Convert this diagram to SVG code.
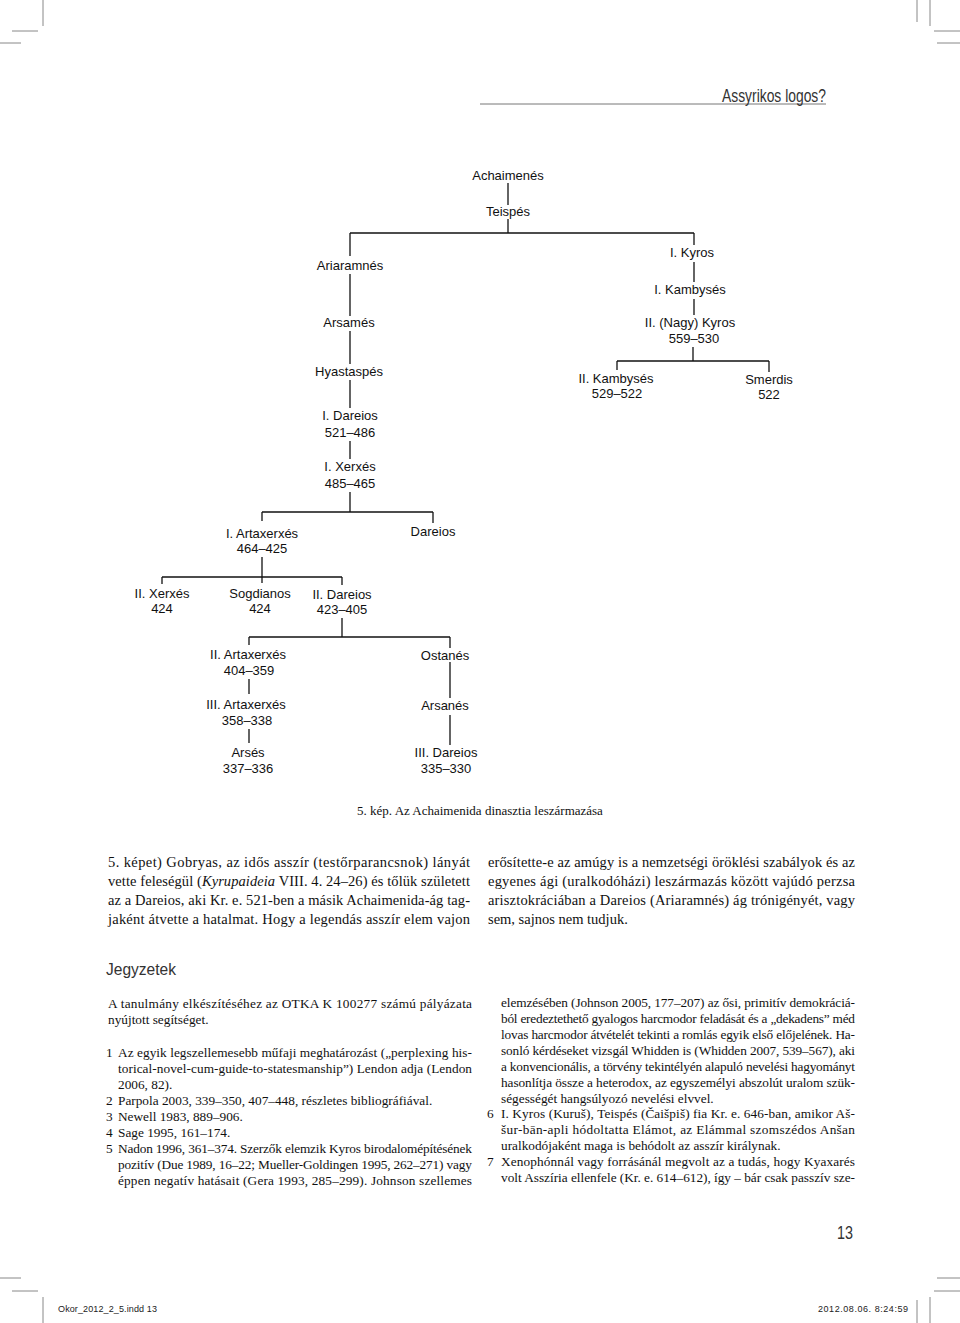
<svg xmlns="http://www.w3.org/2000/svg" width="960" height="1323" viewBox="0 0 960 1323">
<style>
.bg{fill:#fff}
.n{font-family:"Liberation Sans",Arial,sans-serif;font-size:13px;fill:#111;text-anchor:middle}
.c line{stroke:#111;stroke-width:1.3}
.crop line{stroke:#888;stroke-width:1}
.b{font-family:"Liberation Serif","Times New Roman",serif;font-size:14.5px;fill:#111}
.s{font-family:"Liberation Serif","Times New Roman",serif;font-size:13.3px;fill:#111}
.cap{font-family:"Liberation Serif","Times New Roman",serif;font-size:13px;fill:#111;text-anchor:middle}
.hd{font-family:"Liberation Sans",Arial,sans-serif;fill:#333}
.ft{font-family:"Liberation Sans",Arial,sans-serif;font-size:9px;fill:#222}
</style>
<rect class="bg" x="0" y="0" width="960" height="1323"/>

<g id="page-marks" class="crop">
<line x1="43" y1="0" x2="43" y2="26"/>
<line x1="12" y1="31" x2="38" y2="31" stroke-width="1.5"/>
<line x1="0" y1="43" x2="21" y2="43"/>
<line x1="917" y1="0" x2="917" y2="22"/>
<line x1="930" y1="0" x2="930" y2="26"/>
<line x1="934" y1="31" x2="960" y2="31" stroke-width="1.5"/>
<line x1="937" y1="43" x2="960" y2="43"/>
<line x1="0" y1="1278" x2="21" y2="1278"/>
<line x1="12" y1="1291" x2="38" y2="1291" stroke-width="1.5"/>
<line x1="43" y1="1297" x2="43" y2="1323"/>
<line x1="937" y1="1278" x2="960" y2="1278"/>
<line x1="934" y1="1291" x2="960" y2="1291" stroke-width="1.5"/>
<line x1="917" y1="1300" x2="917" y2="1323"/>
<line x1="930" y1="1297" x2="930" y2="1323"/>
</g>

<g id="header">
<line x1="480" y1="104" x2="826" y2="104" stroke="#777" stroke-width="1"/>
<text class="hd" x="826" y="102" font-size="18" text-anchor="end" textLength="104" lengthAdjust="spacingAndGlyphs">Assyrikos logos?</text>
</g>

<g id="connectors" class="c">
<line x1="508" y1="183" x2="508" y2="205"/>
<line x1="508" y1="219" x2="508" y2="233"/>
<line x1="350" y1="233" x2="694" y2="233"/>
<line x1="350" y1="233" x2="350" y2="256"/>
<line x1="694" y1="233" x2="694" y2="245"/>
<line x1="350" y1="274" x2="350" y2="316"/>
<line x1="350" y1="331" x2="350" y2="364"/>
<line x1="350" y1="380" x2="350" y2="408"/>
<line x1="350" y1="441" x2="350" y2="459"/>
<line x1="350" y1="492" x2="350" y2="512"/>
<line x1="262" y1="512" x2="433" y2="512"/>
<line x1="262" y1="512" x2="262" y2="521"/>
<line x1="433" y1="512" x2="433" y2="523"/>
<line x1="694" y1="262" x2="694" y2="282"/>
<line x1="694" y1="299" x2="694" y2="315"/>
<line x1="693" y1="347" x2="693" y2="361"/>
<line x1="617" y1="361" x2="769" y2="361"/>
<line x1="617" y1="361" x2="617" y2="370"/>
<line x1="769" y1="361" x2="769" y2="372"/>
<line x1="262" y1="557" x2="262" y2="583"/>
<line x1="162" y1="577" x2="342" y2="577"/>
<line x1="162" y1="577" x2="162" y2="584"/>
<line x1="342" y1="577" x2="342" y2="585"/>
<line x1="342" y1="618" x2="342" y2="637"/>
<line x1="249" y1="637" x2="450" y2="637"/>
<line x1="249" y1="637" x2="249" y2="645"/>
<line x1="450" y1="637" x2="450" y2="648"/>
<line x1="249" y1="679" x2="249" y2="694"/>
<line x1="249" y1="729" x2="249" y2="743"/>
<line x1="450" y1="662" x2="450" y2="698"/>
<line x1="450" y1="715" x2="450" y2="745"/>
</g>

<g id="n-achaimenes"><text class="n" x="508" y="180">Achaimenés</text></g>
<g id="n-teispes"><text class="n" x="508" y="216">Teispés</text></g>
<g id="n-ariaramnes"><text class="n" x="350" y="270">Ariaramnés</text></g>
<g id="n-arsames"><text class="n" x="349" y="327">Arsamés</text></g>
<g id="n-hyastaspes"><text class="n" x="349" y="376">Hyastaspés</text></g>
<g id="n-dareios1"><text class="n" x="350" y="420">I. Dareios</text><text class="n" x="350" y="437">521–486</text></g>
<g id="n-xerxes1"><text class="n" x="350" y="471">I. Xerxés</text><text class="n" x="350" y="488">485–465</text></g>
<g id="n-kyros1"><text class="n" x="692" y="257">I. Kyros</text></g>
<g id="n-kambyses1"><text class="n" x="690" y="294">I. Kambysés</text></g>
<g id="n-kyros2"><text class="n" x="690" y="327">II. (Nagy) Kyros</text><text class="n" x="694" y="343">559–530</text></g>
<g id="n-kambyses2"><text class="n" x="616" y="383">II. Kambysés</text><text class="n" x="617" y="398">529–522</text></g>
<g id="n-smerdis"><text class="n" x="769" y="384">Smerdis</text><text class="n" x="769" y="399">522</text></g>
<g id="n-artaxerxes1"><text class="n" x="262" y="538">I. Artaxerxés</text><text class="n" x="262" y="553">464–425</text></g>
<g id="n-dareios"><text class="n" x="433" y="536">Dareios</text></g>
<g id="n-xerxes2"><text class="n" x="162" y="598">II. Xerxés</text><text class="n" x="162" y="613">424</text></g>
<g id="n-sogdianos"><text class="n" x="260" y="598">Sogdianos</text><text class="n" x="260" y="613">424</text></g>
<g id="n-dareios2"><text class="n" x="342" y="599">II. Dareios</text><text class="n" x="342" y="614">423–405</text></g>
<g id="n-artaxerxes2"><text class="n" x="248" y="659">II. Artaxerxés</text><text class="n" x="249" y="675">404–359</text></g>
<g id="n-artaxerxes3"><text class="n" x="246" y="709">III. Artaxerxés</text><text class="n" x="247" y="725">358–338</text></g>
<g id="n-arses"><text class="n" x="248" y="757">Arsés</text><text class="n" x="248" y="773">337–336</text></g>
<g id="n-ostanes"><text class="n" x="445" y="660">Ostanés</text></g>
<g id="n-arsanes"><text class="n" x="445" y="710">Arsanés</text></g>
<g id="n-dareios3"><text class="n" x="446" y="757">III. Dareios</text><text class="n" x="446" y="773">335–330</text></g>

<g id="caption"><text class="cap" x="480" y="815">5. kép. Az Achaimenida dinasztia leszármazása</text></g>

<g id="body-left">
<text class="b" x="108" y="867" textLength="362" lengthAdjust="spacing">5. képet) Gobryas, az idős asszír (testőrparancsnok) lányát</text>
<text class="b" x="108" y="886" textLength="362" lengthAdjust="spacing">vette feleségül (<tspan font-style="italic">Kyrupaideia</tspan> VIII. 4. 24–26) és tőlük született</text>
<text class="b" x="108" y="905" textLength="362" lengthAdjust="spacing">az a Dareios, aki Kr. e. 521-ben a másik Achaimenida-ág tag-</text>
<text class="b" x="108" y="924" textLength="362" lengthAdjust="spacing">jaként átvette a hatalmat. Hogy a legendás asszír elem vajon</text>
</g>
<g id="body-right">
<text class="b" x="488" y="867" textLength="367" lengthAdjust="spacing">erősítette-e az amúgy is a nemzetségi öröklési szabályok és az</text>
<text class="b" x="488" y="886" textLength="367" lengthAdjust="spacing">egyenes ági (uralkodóházi) leszármazás között vajúdó perzsa</text>
<text class="b" x="488" y="905" textLength="367" lengthAdjust="spacing">arisztokráciában a Dareios (Ariaramnés) ág trónigényét, vagy</text>
<text class="b" x="488" y="924">sem, sajnos nem tudjuk.</text>
</g>

<g id="notes-title"><text class="hd" x="106" y="975" font-size="17" fill="#222" textLength="70" lengthAdjust="spacingAndGlyphs">Jegyzetek</text></g>

<g id="notes-left">
<text class="s" x="108" y="1008" textLength="364" lengthAdjust="spacing">A tanulmány elkészítéséhez az OTKA K 100277 számú pályázata</text>
<text class="s" x="108" y="1024">nyújtott segítséget.</text>
<text class="s" x="106" y="1057">1</text>
<text class="s" x="118" y="1057" textLength="354" lengthAdjust="spacing">Az egyik legszellemesebb műfaji meghatározást („perplexing his-</text>
<text class="s" x="118" y="1073" textLength="354" lengthAdjust="spacing">torical-novel-cum-guide-to-statesmanship”) Lendon adja (Lendon</text>
<text class="s" x="118" y="1089">2006, 82).</text>
<text class="s" x="106" y="1105">2</text>
<text class="s" x="118" y="1105">Parpola 2003, 339–350, 407–448, részletes bibliográfiával.</text>
<text class="s" x="106" y="1121">3</text>
<text class="s" x="118" y="1121">Newell 1983, 889–906.</text>
<text class="s" x="106" y="1137">4</text>
<text class="s" x="118" y="1137">Sage 1995, 161–174.</text>
<text class="s" x="106" y="1153">5</text>
<text class="s" x="118" y="1153" textLength="354" lengthAdjust="spacing">Nadon 1996, 361–374. Szerzők elemzik Kyros birodalomépítésének</text>
<text class="s" x="118" y="1169" textLength="354" lengthAdjust="spacing">pozitív (Due 1989, 16–22; Mueller-Goldingen 1995, 262–271) vagy</text>
<text class="s" x="118" y="1185" textLength="354" lengthAdjust="spacing">éppen negatív hatásait (Gera 1993, 285–299). Johnson szellemes</text>
</g>

<g id="notes-right">
<text class="s" x="501" y="1007" textLength="354" lengthAdjust="spacing">elemzésében (Johnson 2005, 177–207) az ősi, primitív demokráciá-</text>
<text class="s" x="501" y="1023" textLength="354" lengthAdjust="spacing">ból eredeztethető gyalogos harcmodor feladását és a „dekadens” méd</text>
<text class="s" x="501" y="1039" textLength="354" lengthAdjust="spacing">lovas harcmodor átvételét tekinti a romlás egyik első előjelének. Ha-</text>
<text class="s" x="501" y="1055" textLength="354" lengthAdjust="spacing">sonló kérdéseket vizsgál Whidden is (Whidden 2007, 539–567), aki</text>
<text class="s" x="501" y="1071" textLength="354" lengthAdjust="spacing">a konvencionális, a törvény tekintélyén alapuló nevelési hagyományt</text>
<text class="s" x="501" y="1087" textLength="354" lengthAdjust="spacing">hasonlítja össze a heterodox, az egyszemélyi abszolút uralom szük-</text>
<text class="s" x="501" y="1103">ségességét hangsúlyozó nevelési elvvel.</text>
<text class="s" x="487" y="1118">6</text>
<text class="s" x="501" y="1118" textLength="354" lengthAdjust="spacing">I. Kyros (Kuruš), Teispés (Čaišpiš) fia Kr. e. 646-ban, amikor Aš-</text>
<text class="s" x="501" y="1134" textLength="354" lengthAdjust="spacing">šur-bān-apli hódoltatta Elámot, az Elámmal szomszédos Anšan</text>
<text class="s" x="501" y="1150">uralkodójaként maga is behódolt az asszír királynak.</text>
<text class="s" x="487" y="1166">7</text>
<text class="s" x="501" y="1166" textLength="354" lengthAdjust="spacing">Xenophónnál vagy forrásánál megvolt az a tudás, hogy Kyaxarés</text>
<text class="s" x="501" y="1182" textLength="354" lengthAdjust="spacing">volt Asszíria ellenfele (Kr. e. 614–612), így – bár csak passzív sze-</text>
</g>

<g id="page-number"><text class="hd" x="853" y="1239" font-size="19" text-anchor="end" fill="#222" textLength="16" lengthAdjust="spacingAndGlyphs">13</text></g>

<g id="footer">
<text class="ft" x="58" y="1312" textLength="99" lengthAdjust="spacing">Okor_2012_2_5.indd   13</text>
<text class="ft" x="818" y="1312" textLength="90" lengthAdjust="spacing">2012.08.06.   8:24:59</text>
</g>
</svg>
